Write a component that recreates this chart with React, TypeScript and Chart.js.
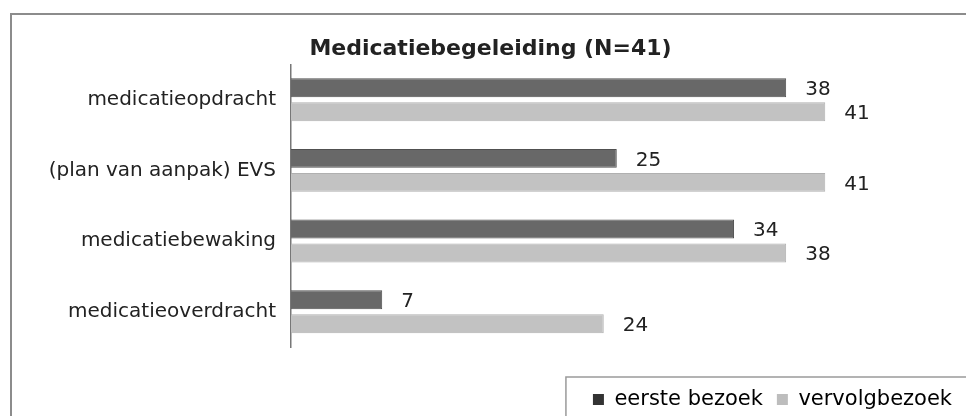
import React, { useEffect, useRef } from "react";
import { Chart, registerables } from "chart.js";

Chart.register(...registerables);

const categories = [
  "medicatieopdracht",
  "(plan van aanpak) EVS",
  "medicatiebewaking",
  "medicatieoverdracht",
];
const eersteBezoek = [38, 25, 34, 7];
const vervolgBezoek = [41, 41, 38, 24];
const seriesNames = ["eerste bezoek", "vervolgbezoek"];
const chartTitle = "Medicatiebegeleiding (N=41)";

const FONT = "'DejaVu Sans', Verdana, sans-serif";

const framePlugin = {
  id: "frame",
  beforeDraw(chart: any) {
    const ctx = chart.ctx;
    ctx.save();
    ctx.fillStyle = "#ffffff";
    ctx.fillRect(0, 0, chart.width, chart.height);
    ctx.strokeStyle = "#8c8c8c";
    ctx.lineWidth = 2;
    ctx.strokeRect(11, 14, chart.width + 20, chart.height + 20);
    ctx.restore();
  },
  afterDraw(chart: any) {
    const lg = chart.legend;
    if (!lg || !lg.legendHitBoxes || !lg.legendHitBoxes.length) return;
    const hb = lg.legendHitBoxes[0];
    const ctx = chart.ctx;
    ctx.save();
    ctx.strokeStyle = "#9a9a9a";
    ctx.lineWidth = 1.5;
    ctx.strokeRect(hb.left - 27, hb.top - 12, chart.width, chart.height);
    ctx.restore();
  },
};

const valueLabelPlugin = {
  id: "valueLabels",
  afterDatasetsDraw(chart: any) {
    const ctx = chart.ctx;
    ctx.save();
    ctx.font = `20px ${FONT}`;
    ctx.fillStyle = "#222222";
    ctx.textAlign = "left";
    ctx.textBaseline = "middle";
    chart.data.datasets.forEach((ds: any, di: number) => {
      const meta = chart.getDatasetMeta(di);
      meta.data.forEach((bar: any, i: number) => {
        ctx.fillText(String(ds.data[i]), bar.x + 19, bar.y + 2);
      });
    });
    ctx.restore();
  },
};

export default function App() {
  const ref = useRef<HTMLCanvasElement | null>(null);

  useEffect(() => {
    if (!ref.current) return;
    const chart = new Chart(ref.current, {
      type: "bar",
      data: {
        labels: categories,
        datasets: [
          {
            label: seriesNames[0],
            data: eersteBezoek,
            backgroundColor: "#686868",
            borderColor: "#505050",
            borderWidth: 1,
            categoryPercentage: 0.68,
            barPercentage: 0.79,
          },
          {
            label: seriesNames[1],
            data: vervolgBezoek,
            backgroundColor: "#c2c2c2",
            borderColor: "#b0b0b0",
            borderWidth: 1,
            categoryPercentage: 0.68,
            barPercentage: 0.79,
          },
        ],
      },
      options: {
        indexAxis: "y",
        responsive: false,
        animation: false,
        devicePixelRatio: 1,
        layout: { padding: { left: 15, right: 0, top: 26, bottom: -4 } },
        plugins: {
          title: {
            display: true,
            text: chartTitle,
            color: "#222222",
            font: { family: FONT, size: 22, weight: "bold" },
            padding: { top: 10, bottom: 2 },
          },
          legend: {
            display: true,
            position: "bottom",
            align: "end",
            labels: {
              color: "#222222",
              font: { family: FONT, size: 21 },
              boxWidth: 11,
              boxHeight: 11,
              padding: 14,
              generateLabels: () => [
                {
                  text: seriesNames[0],
                  fillStyle: "#333333",
                  strokeStyle: "#333333",
                  lineWidth: 0,
                  datasetIndex: 0,
                },
                {
                  text: seriesNames[1],
                  fillStyle: "#bdbdbd",
                  strokeStyle: "#bdbdbd",
                  lineWidth: 0,
                  datasetIndex: 1,
                },
              ],
            },
          },
          tooltip: { enabled: false },
        },
        scales: {
          x: {
            display: true,
            min: 0,
            max: 51.8,
            grid: { display: false, drawTicks: false },
            border: { display: false },
            ticks: { display: false },
            afterFit: (s: any) => {
              s.height = 28;
            },
          },
          y: {
            grid: { display: false, drawTicks: false },
            border: { display: true, color: "#777777", width: 1.5 },
            ticks: {
              color: "#222222",
              font: { family: FONT, size: 20 },
              padding: 15,
            },
            afterFit: (s: any) => {
              s.width = 276;
            },
          },
        },
      },
      plugins: [framePlugin, valueLabelPlugin],
    });
    return () => chart.destroy();
  }, []);

  return (
    <div style={{ position: "absolute", left: 0, top: 0, width: 966, height: 416 }}>
      <canvas ref={ref} width={966} height={416} />
    </div>
  );
}
